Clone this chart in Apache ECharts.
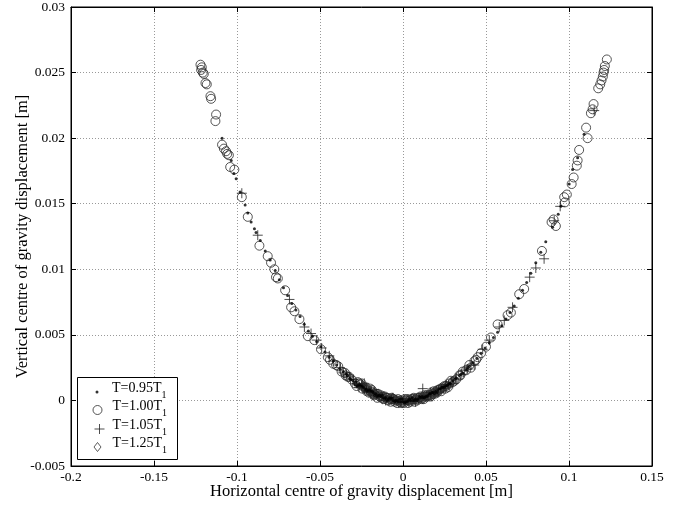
<!DOCTYPE html>
<html>
<head>
<meta charset="utf-8">
<script src="https://cdn.jsdelivr.net/npm/echarts@6/dist/echarts.min.js"></script>
<style>
  html, body { margin:0; padding:0; background:#fff; }
  #chart { width:689px; height:511px; }
</style>
</head>
<body>
<div id="chart"></div>
<script>
// tick labels
var xTickLabels = ['-0.2','-0.15','-0.1','-0.05','0','0.05','0.1','0.15'];
var yTickLabels = ['-0.005','0','0.005','0.01','0.015','0.02','0.025','0.03'];

// series names (subscript drawn by the legend formatter)
var seriesNames = ['T=0.95T1','T=1.00T1','T=1.05T1','T=1.25T1'];

// T=0.95T1  (dots)
var dots095 = [
  [-0.1090,0.0200],[-0.1035,0.0183],[-0.1019,0.0173],[-0.1005,0.0169],[-0.0981,0.0159],
  [-0.0951,0.0149],[-0.0935,0.0143],[-0.0915,0.0136],[-0.0895,0.0131],[-0.0885,0.0128],
  [-0.0860,0.0122],[-0.0830,0.0114],[-0.0800,0.0107],[-0.0770,0.0099],[-0.0745,0.0092],
  [-0.0720,0.0086],[-0.0695,0.0080],[-0.0670,0.0074],[-0.0645,0.0069],[-0.0620,0.0064],
  [-0.0595,0.0058],[-0.0570,0.0053],[-0.0545,0.0049],[-0.0520,0.0045],[-0.0495,0.0041],
  [-0.0470,0.0037],[-0.0445,0.0033],[-0.0420,0.0030],[-0.0400,0.0027],[-0.0380,0.0024],
  [-0.0360,0.0022],[-0.0340,0.0020],[-0.0320,0.0017],[-0.0300,0.0015],[-0.0285,0.0014],
  [-0.0270,0.0012],[-0.0255,0.0011],[-0.0240,0.0010],[-0.0225,0.0009],[-0.0210,0.0008],
  [-0.0195,0.0007],[-0.0180,0.0006],[-0.0165,0.0005],[-0.0150,0.0004],[-0.0135,0.0003],
  [-0.0120,0.0002],[-0.0105,0.0002],[-0.0090,0.0001],[-0.0075,0.0001],[-0.0060,0.0000],
  [-0.0045,0.0000],[-0.0030,-0.0001],[-0.0015,-0.0001],[0.0000,-0.0001],[0.0015,-0.0001],
  [0.0030,0.0000],[0.0045,0.0000],[0.0060,0.0000],[0.0075,0.0001],[0.0090,0.0001],
  [0.0105,0.0002],[0.0120,0.0002],[0.0135,0.0003],[0.0150,0.0004],[0.0165,0.0005],
  [0.0180,0.0006],[0.0195,0.0007],[0.0210,0.0008],[0.0225,0.0009],[0.0240,0.0010],
  [0.0255,0.0011],[0.0270,0.0012],[0.0285,0.0013],[0.0300,0.0015],[0.0320,0.0017],
  [0.0340,0.0019],[0.0360,0.0021],[0.0380,0.0023],[0.0400,0.0026],[0.0420,0.0029],
  [0.0445,0.0032],[0.0470,0.0036],[0.0495,0.0040],[0.0520,0.0044],[0.0545,0.0048],
  [0.0570,0.0052],[0.0595,0.0057],[0.0620,0.0062],[0.0645,0.0067],[0.0670,0.0072],
  [0.0695,0.0078],[0.0720,0.0084],[0.0745,0.0090],[0.0770,0.0097],[0.0800,0.0105],
  [0.0830,0.0113],[0.0860,0.0121],[0.0901,0.0132],[0.0935,0.0142],[0.0951,0.0148],
  [0.1001,0.0165],[0.1022,0.0176],[0.1052,0.0185],[0.1091,0.0203],
  [-0.0290,0.0012],[-0.0260,0.0012],[-0.0230,0.0008],[-0.0200,0.0008],[-0.0170,0.0004],
  [-0.0140,0.0004],[-0.0110,0.0001],[-0.0080,0.0002],[-0.0050,-0.0001],[-0.0020,0.0001],
  [0.0010,-0.0002],[0.0040,0.0001],[0.0070,0.0000],[0.0100,0.0003],[0.0130,0.0002],
  [0.0160,0.0005],[0.0190,0.0005],[0.0220,0.0009],[0.0250,0.0010],[0.0280,0.0013],
  [-0.0335,0.0019],[-0.0315,0.0016],[-0.0275,0.0011],[-0.0245,0.0011],[-0.0215,0.0007],
  [-0.0185,0.0007],[-0.0155,0.0003],[-0.0125,0.0004],[-0.0095,0.0000],[-0.0065,0.0002],
  [-0.0035,0.0000],[-0.0005,0.0001],[0.0025,-0.0001],[0.0055,0.0002],[0.0085,0.0000],
  [0.0115,0.0003],[0.0145,0.0003],[0.0175,0.0006],[0.0205,0.0006],[0.0235,0.0010],
  [0.0265,0.0011],[0.0310,0.0016],[0.0350,0.0020],[0.0390,0.0025]
];

// T=1.00T1  (circles)
var circ100 = [
  [-0.1220,0.0256],[-0.1212,0.0254],[-0.1216,0.0252],[-0.1206,0.0250],[-0.1200,0.0249],
  [-0.1190,0.0242],[-0.1182,0.0241],[-0.1160,0.0232],[-0.1156,0.0230],[-0.1126,0.0218],
  [-0.1130,0.0213],[-0.1090,0.0195],[-0.1079,0.0192],[-0.1066,0.0190],[-0.1059,0.0188],
  [-0.1049,0.0187],[-0.1041,0.0178],[-0.1016,0.0176],[-0.0971,0.0155],[-0.0935,0.0140],
  [-0.0865,0.0118],[-0.0815,0.0110],[-0.0795,0.0105],[-0.0775,0.0100],[-0.0765,0.0094],
  [-0.0754,0.0093],[-0.0710,0.0084],[-0.0674,0.0071],[-0.0654,0.0068],[-0.0624,0.0062],
  [-0.0573,0.0049],[-0.0534,0.0046],[-0.0494,0.0039],[-0.0453,0.0033],[-0.0403,0.0027],
  [-0.0333,0.0018],[-0.0273,0.0014],
  [-0.0255,0.0012],[-0.0235,0.0010],[-0.0215,0.0008],[-0.0195,0.0007],[-0.0180,0.0006],
  [-0.0160,0.0005],[-0.0140,0.0003],[-0.0120,0.0003],[-0.0100,0.0002],[-0.0080,0.0001],
  [-0.0060,0.0001],[-0.0040,0.0000],[-0.0020,-0.0001],[0.0000,-0.0001],[0.0020,0.0000],
  [0.0040,0.0000],[0.0060,0.0001],[0.0080,0.0001],[0.0100,0.0002],[0.0120,0.0002],
  [0.0140,0.0003],[0.0160,0.0004],[0.0180,0.0005],[0.0200,0.0007],[0.0220,0.0008],
  [0.0240,0.0010],[0.0260,0.0011],
  [0.0289,0.0015],[0.0339,0.0019],[0.0409,0.0025],[0.0470,0.0036],[0.0500,0.0041],
  [0.0530,0.0048],[0.0570,0.0058],[0.0630,0.0065],[0.0650,0.0067],[0.0700,0.0081],
  [0.0730,0.0085],[0.0837,0.0114],[0.0895,0.0136],[0.0907,0.0138],[0.0921,0.0133],
  [0.0971,0.0155],[0.0975,0.0151],[0.0987,0.0157],[0.1016,0.0165],[0.1028,0.0170],
  [0.1047,0.0179],[0.1052,0.0183],[0.1061,0.0191],[0.1112,0.0200],[0.1103,0.0208],
  [0.1132,0.0219],[0.1142,0.0222],[0.1148,0.0226],[0.1176,0.0238],[0.1188,0.0241],
  [0.1196,0.0244],[0.1204,0.0247],[0.1208,0.0250],[0.1212,0.0252],[0.1216,0.0255],
  [0.1228,0.0260],
  [-0.0440,0.0031],[-0.0420,0.0028],[-0.0390,0.0026],[-0.0370,0.0022],[-0.0350,0.0021],
  [-0.0310,0.0016],[-0.0290,0.0013],[-0.0265,0.0013],[-0.0245,0.0009],[-0.0225,0.0010],
  [-0.0205,0.0006],[-0.0188,0.0008],[-0.0170,0.0004],[-0.0150,0.0005],[-0.0130,0.0002],
  [-0.0110,0.0003],[-0.0090,0.0000],[-0.0070,0.0002],[-0.0050,-0.0001],[-0.0030,0.0001],
  [-0.0010,-0.0002],[0.0010,0.0001],[0.0030,-0.0002],[0.0050,0.0001],[0.0070,-0.0001],
  [0.0090,0.0002],[0.0110,0.0001],[0.0130,0.0004],[0.0150,0.0003],[0.0170,0.0006],
  [0.0190,0.0005],[0.0210,0.0008],[0.0230,0.0007],[0.0250,0.0011],[0.0270,0.0010],
  [0.0300,0.0014],[0.0320,0.0016],[0.0360,0.0022],[0.0380,0.0023],[0.0430,0.0030],
  [0.0450,0.0033],
  [-0.0345,0.0019],[-0.0325,0.0018],[-0.0280,0.0011],[-0.0250,0.0013],[-0.0218,0.0007],
  [-0.0198,0.0009],[-0.0175,0.0005],[-0.0155,0.0002],[-0.0135,0.0004],[-0.0115,0.0001],
  [-0.0095,0.0002],[-0.0075,-0.0001],[-0.0055,0.0001],[-0.0035,-0.0002],[-0.0015,0.0000],
  [0.0005,-0.0002],[0.0025,0.0001],[0.0045,-0.0001],[0.0065,0.0002],[0.0085,0.0000],
  [0.0105,0.0003],[0.0125,0.0001],[0.0145,0.0004],[0.0165,0.0003],[0.0185,0.0007],
  [0.0205,0.0006],[0.0225,0.0009],[0.0255,0.0009],[0.0280,0.0013],[0.0310,0.0015],
  [0.0345,0.0019],[0.0400,0.0027],[0.0440,0.0031]
];

// T=1.05T1  (plus)
var plus105 = [
  [-0.0971,0.0158],[-0.0875,0.0126],[-0.0684,0.0077],[-0.0594,0.0056],[-0.0554,0.0051],
  [-0.0520,0.0046],[-0.0490,0.0040],[-0.0444,0.0034],[-0.0420,0.0030],[-0.0380,0.0025],
  [-0.0340,0.0020],[-0.0300,0.0016],
  [-0.0280,0.0013],[-0.0250,0.0011],[-0.0233,0.0013],[-0.0220,0.0009],[-0.0190,0.0007],
  [-0.0160,0.0005],[-0.0130,0.0003],[-0.0100,0.0002],[-0.0070,0.0001],[-0.0040,0.0000],
  [-0.0010,0.0000],[0.0020,0.0000],[0.0050,0.0001],[0.0080,0.0001],[0.0110,0.0002],
  [0.0119,0.0009],[0.0140,0.0003],[0.0170,0.0005],[0.0200,0.0007],[0.0230,0.0009],
  [0.0260,0.0011],[0.0290,0.0014],
  [0.0320,0.0017],[0.0350,0.0020],[0.0390,0.0024],[0.0429,0.0027],[0.0480,0.0039],
  [0.0520,0.0046],[0.0580,0.0056],[0.0610,0.0061],[0.0660,0.0071],[0.0763,0.0094],
  [0.0800,0.0101],[0.0850,0.0108],[0.0911,0.0137],[0.0947,0.0148],[0.1152,0.0221],
  [-0.0265,0.0010],[-0.0235,0.0009],[-0.0205,0.0006],[-0.0175,0.0006],[-0.0145,0.0003],
  [-0.0115,0.0003],[-0.0085,0.0000],[-0.0055,0.0001],[-0.0025,-0.0002],[0.0005,0.0001],
  [0.0035,-0.0001],[0.0065,0.0001],[0.0095,0.0001],[0.0125,0.0003],[0.0155,0.0004],
  [0.0185,0.0006],[0.0215,0.0007],[0.0245,0.0009],[0.0275,0.0012],
  [-0.0360,0.0021],[-0.0320,0.0018],[-0.0245,0.0012],[-0.0195,0.0005],[-0.0150,0.0005],
  [-0.0105,0.0000],[-0.0060,0.0002],[-0.0015,-0.0001],[0.0030,0.0001],[0.0075,-0.0001],
  [0.0120,0.0001],[0.0165,0.0006],[0.0210,0.0006],[0.0255,0.0012],[0.0300,0.0013],
  [0.0370,0.0023],[0.0410,0.0027]
];

// T=1.25T1  (diamonds)
var diam125 = [
  [-0.0230,0.0010],[-0.0200,0.0007],[-0.0185,0.0004],[-0.0170,0.0005],[-0.0140,0.0003],
  [-0.0125,0.0001],[-0.0110,0.0002],[-0.0080,0.0001],[-0.0065,0.0002],[-0.0050,0.0000],
  [-0.0020,0.0000],[-0.0005,-0.0002],[0.0010,0.0000],[0.0040,0.0000],[0.0055,0.0000],
  [0.0070,0.0001],[0.0100,0.0002],[0.0115,0.0003],[0.0130,0.0003],[0.0160,0.0004],
  [0.0175,0.0003],[0.0190,0.0006],[0.0220,0.0008]
];

var fontSerif = 'Liberation Serif';
var plusPath = 'path://M0,5L10,5M5,0L5,10';
var diamPath = 'path://M3.5,0L7,4.5L3.5,9L0,4.5Z';

var dotStyle = { color:'#000' };
var circStyle = { color:'rgba(0,0,0,0)', borderColor:'#2a2a2a', borderWidth:1 };
var plusStyle = { color:'none', borderColor:'#222', borderWidth:1 };
var diamStyle = { color:'rgba(0,0,0,0)', borderColor:'#333', borderWidth:1 };

function legendLabel(name){
  // T=0.95T1 -> spacer + main part + subscript 1
  return '{p|}{m|' + name.slice(0, name.length - 1) + '}{s|1}';
}

// one legend per row so every icon keeps its own size;
// icon centred at x=97 / y=cy, text starts near x=112
function legendRow(name, cy, w, h, icon, style, dx){
  return {
    data:[{ name:name, icon:icon, itemStyle:style }],
    left:97 - w / 2, top:cy - 11, orient:'vertical', padding:0,
    itemWidth:w, itemHeight:h, selectedMode:false, symbolKeepAspect:true,
    formatter:legendLabel,
    textStyle:{
      color:'#000', fontFamily:fontSerif,
      rich:{
        p:{ width:10 - w / 2 + dx, fontSize:14, lineHeight:22, verticalAlign:'top' },
        m:{ fontSize:14, fontFamily:fontSerif, color:'#000', lineHeight:14, verticalAlign:'top' },
        s:{ fontSize:10, fontFamily:fontSerif, color:'#000', lineHeight:10, padding:[9,0,0,0], verticalAlign:'top' }
      }
    }
  };
}

var axisLineStyle = { show:true, onZero:false, lineStyle:{ color:'#000', width:1 } };
var axisTickStyle = { show:true, inside:true, length:5, lineStyle:{ color:'#000' } };
var gridLineStyle = { show:true, lineStyle:{ color:'#999', width:1, type:[1,2] } };

var myChart = echarts.init(document.getElementById('chart'));
var option = {
  animation:false,
  backgroundColor:'#fff',
  grid:{ left:71, right:37, top:6, bottom:45, show:true, borderColor:'#000', borderWidth:1, backgroundColor:'#fff' },
  xAxis:[
    {
      type:'value', min:-0.2, max:0.15, interval:0.05, position:'bottom',
      name:'Horizontal centre of gravity displacement [m]',
      nameLocation:'middle', nameGap:17, nameMoveOverlap:false,
      nameTextStyle:{ fontFamily:fontSerif, fontSize:16.5, color:'#000' },
      axisLine:axisLineStyle, axisTick:axisTickStyle,
      axisLabel:{ fontFamily:fontSerif, fontSize:13.5, color:'#000', margin:4,
        formatter:function(v, i){ return xTickLabels[i]; } },
      splitLine:gridLineStyle
    },
    {
      type:'value', min:-0.2, max:0.15, interval:0.05, position:'top',
      axisLine:axisLineStyle, axisTick:axisTickStyle,
      axisLabel:{ show:false }, splitLine:{ show:false }
    }
  ],
  yAxis:[
    {
      type:'value', min:-0.005, max:0.03, interval:0.005, position:'left',
      name:'Vertical centre of gravity displacement [m]',
      nameLocation:'middle', nameGap:40, nameMoveOverlap:false,
      nameTextStyle:{ fontFamily:fontSerif, fontSize:16.5, color:'#000' },
      axisLine:axisLineStyle, axisTick:axisTickStyle,
      axisLabel:{ fontFamily:fontSerif, fontSize:13.5, color:'#000', margin:6,
        formatter:function(v, i){ return yTickLabels[i]; } },
      splitLine:gridLineStyle
    },
    {
      type:'value', min:-0.005, max:0.03, interval:0.005, position:'right',
      axisLine:axisLineStyle, axisTick:axisTickStyle,
      axisLabel:{ show:false }, splitLine:{ show:false }
    }
  ],
  legend:[
    legendRow(seriesNames[0], 392, 3, 3, 'circle', dotStyle, 0),
    legendRow(seriesNames[1], 410, 9, 9, 'circle', circStyle, 0),
    legendRow(seriesNames[2], 429, 10, 10, plusPath, plusStyle, -2),
    legendRow(seriesNames[3], 447, 7, 9, diamPath, diamStyle, 0)
  ],
  graphic:[
    { type:'rect', x:77.5, y:377.5, shape:{ width:100, height:82 },
      style:{ fill:'#fff', stroke:'#000', lineWidth:1 }, z:3 }
  ],
  series:[
    { name:seriesNames[0], type:'scatter', data:dots095, symbol:'circle', symbolSize:3,
      itemStyle:dotStyle, z:3 },
    { name:seriesNames[1], type:'scatter', data:circ100, symbol:'circle', symbolSize:9,
      itemStyle:circStyle, z:2 },
    { name:seriesNames[2], type:'scatter', data:plus105, symbol:plusPath, symbolSize:10,
      itemStyle:plusStyle, z:2 },
    { name:seriesNames[3], type:'scatter', data:diam125, symbol:diamPath, symbolSize:[7,9],
      itemStyle:diamStyle, z:2 }
  ]
};
myChart.setOption(option);
</script>
</body>
</html>
